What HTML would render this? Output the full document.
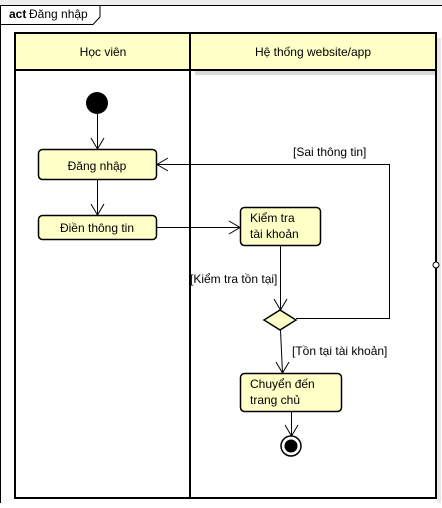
<!DOCTYPE html>
<html><head><meta charset="utf-8"><style>
body{margin:0;width:442px;height:503px;background:#fff;overflow:hidden}
svg text{font-family:"Liberation Sans","DejaVu Sans",sans-serif;font-size:12px;fill:#000}
</style></head><body>
<svg width="442" height="503" xmlns="http://www.w3.org/2000/svg">
<rect x="0" y="0" width="442" height="5" fill="#eeeeee"/>
<line x1="0.5" y1="5" x2="0.5" y2="503" stroke="#000"/>
<line x1="0" y1="5.5" x2="442" y2="5.5" stroke="#000"/>
<path d="M0.5 24.5 H93 L100 17 V5" fill="none" stroke="#000"/>
<text x="9" y="18" style="font-weight:bold">act</text><text x="29" y="18">Đăng nhập</text>
<!-- shadow -->
<rect x="195" y="70" width="246" height="5" fill="#d8d8d8"/>
<rect x="437" y="38" width="4" height="465" fill="#e8e8e8"/>
<!-- header -->
<rect x="15" y="33" width="421" height="37" fill="#ffffc8" stroke="#000" stroke-width="2"/>
<rect x="15" y="33" width="421" height="465" fill="none" stroke="#000" stroke-width="2"/>
<line x1="190" y1="33" x2="190" y2="498" stroke="#000" stroke-width="2"/>
<circle cx="436" cy="265" r="3" fill="#fff" stroke="#000"/>
<text x="103" y="56" text-anchor="middle">Học viên</text>
<text x="313" y="56" text-anchor="middle">Hệ thống website/app</text>
<g fill="#ffffc8" stroke="#000" stroke-width="1.5">
<rect x="38.5" y="149.5" width="118" height="30" rx="4"/>
<rect x="38.5" y="215.5" width="118" height="24" rx="4"/>
<rect x="240.5" y="207.5" width="80" height="38" rx="4"/>
<rect x="240.5" y="373.5" width="101" height="38" rx="4"/>
<path d="M264 320 L280 310 L296 320 L280 330 Z"/>
</g>
<circle cx="97" cy="103" r="11" fill="#000"/>
<circle cx="291" cy="446" r="10" fill="#fff" stroke="#000" stroke-width="1.5"/>
<circle cx="291" cy="446" r="6.5" fill="#000"/>
<g stroke="#000" fill="none" stroke-width="1">
<line x1="97.5" y1="114" x2="97.5" y2="149"/><path d="M91 138 L97.5 149 L104 138"/>
<line x1="97.5" y1="180" x2="97.5" y2="215"/><path d="M91 204 L97.5 215 L104 204"/>
<line x1="157" y1="227.5" x2="240" y2="227.5"/><path d="M229 221 L240 227.5 L229 234"/>
<line x1="280.5" y1="245" x2="280.5" y2="310"/><path d="M274 299 L280.5 310 L287 299"/>
<path d="M296 318.5 H389.5 V164.5 H157"/><path d="M168 158 L157 164.5 L168 171"/>
<line x1="280.5" y1="330" x2="282.5" y2="373"/><path d="M276 362 L282.5 373 L289 362"/>
<line x1="291.5" y1="411" x2="291.5" y2="436"/><path d="M285 425 L291.5 436 L298 425"/>
</g>
<text x="97" y="170" text-anchor="middle">Đăng nhập</text>
<text x="97" y="232" text-anchor="middle">Điền thông tin</text>
<text x="250" y="222">Kiểm tra</text><text x="250" y="238">tài khoản</text>
<text x="250" y="388">Chuyển đến</text><text x="250" y="404">trang chủ</text>
<text x="293" y="156">[Sai thông tin]</text>
<text x="190" y="283">[Kiểm tra tồn tại]</text>
<text x="292" y="355">[Tồn tại tài khoản]</text>
</svg>
</body></html>
